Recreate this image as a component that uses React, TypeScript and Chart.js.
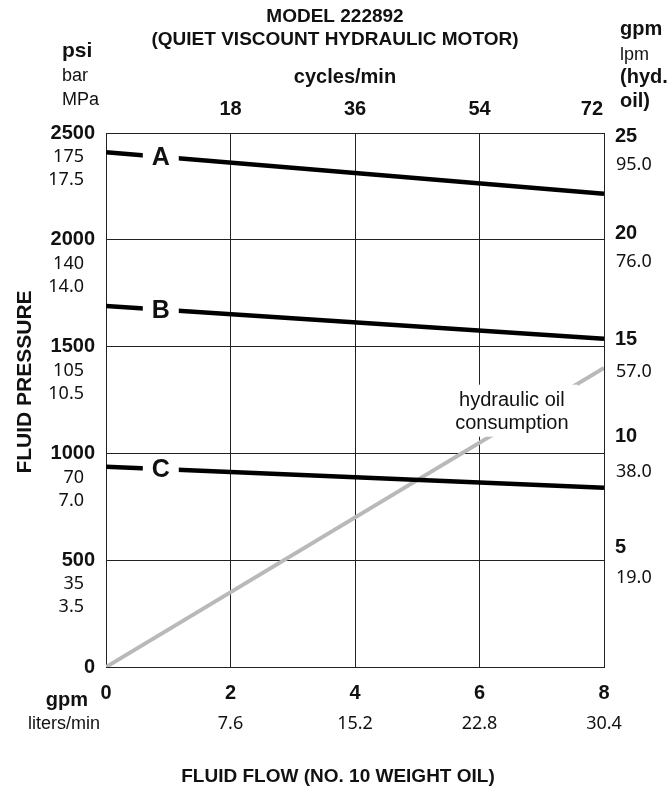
import React, { useEffect, useRef } from "react";
import { Chart, registerables } from "chart.js";
Chart.register(...registerables);

// ---- data ----
const flowGpm = [0, 8];
const curveA = [2410, 2215];
const curveB = [1690, 1537];
const curveC = [937, 839];
const hydOilGpm = [0, 14];
const curveNames = ["A", "B", "C"];
const curveLabelAtGpm = 0.88;
const xTicksGpm = [0, 2, 4, 6, 8];
const xTicksLpm = ["", "7.6", "15.2", "22.8", "30.4"];
const cycleTicks = ["", "18", "36", "54", "72"];
const psiTicks = [0, 500, 1000, 1500, 2000, 2500];
const barTicks = ["", "35", "70", "105", "140", "175"];
const mpaTicks = ["", "3.5", "7.0", "10.5", "14.0", "17.5"];
const rightGpmTicks = [5, 10, 15, 20, 25];
const rightLpmTicks = ["19.0", "38.0", "57.0", "76.0", "95.0"];
const oilNoteAt = { x: 6.52, y: 12.0 };

// ---- style ----
const BOLD = "bold 20px 'Liberation Sans', Arial, sans-serif";
const TITLE = "bold 19px 'Liberation Sans', Arial, sans-serif";
const NUM = "18px 'Noto Sans', sans-serif";
const TXT = "18px 'Liberation Sans', Arial, sans-serif";
const rightBoldNudge = [-13, -17, -7, -6, 3];
const rightRegNudge = [18, 18, 25, 22, 32];

function text(ctx: CanvasRenderingContext2D, s: string, x: number, y: number, font: string, align: CanvasTextAlign = "center", base: CanvasTextBaseline = "middle") {
  ctx.font = font;
  ctx.textAlign = align;
  ctx.textBaseline = base;
  ctx.fillStyle = "#111";
  ctx.fillText(s, x, y);
}

const decor = {
  id: "decor",
  afterDatasetsDraw(chart: any) {
    const ctx = chart.ctx as CanvasRenderingContext2D;
    const x = chart.scales.x, y = chart.scales.y, yR = chart.scales.yR;
    ctx.save();
    const curves = [curveA, curveB, curveC];
    curves.forEach((c, i) => {
      const t = curveLabelAtGpm / (flowGpm[1] - flowGpm[0]);
      const v = c[0] + (c[1] - c[0]) * t;
      const px = x.getPixelForValue(curveLabelAtGpm);
      const py = y.getPixelForValue(v);
      ctx.fillStyle = "#fff";
      ctx.fillRect(px - 18, py - 8, 36, 16);
      text(ctx, curveNames[i], px, py + 1, "bold 25px 'Liberation Sans', Arial, sans-serif");
    });
    const nx = x.getPixelForValue(oilNoteAt.x);
    const ny = yR.getPixelForValue(oilNoteAt.y);
    ctx.fillStyle = "#fff";
    ctx.fillRect(nx - 58, ny - 26, 124, 52);
    text(ctx, "hydraulic oil", nx, ny - 10, "20px 'Liberation Sans', Arial, sans-serif");
    text(ctx, "consumption", nx, ny + 13, "20px 'Liberation Sans', Arial, sans-serif");
    ctx.restore();
  },
  afterDraw(chart: any) {
    const ctx = chart.ctx as CanvasRenderingContext2D;
    const x = chart.scales.x, y = chart.scales.y, yR = chart.scales.yR;
    const area = chart.chartArea;
    ctx.save();
    text(ctx, "MODEL 222892", 335, 17, TITLE);
    text(ctx, "(QUIET VISCOUNT HYDRAULIC MOTOR)", 335, 40, TITLE);
    text(ctx, "psi", 62, 57, "bold 21px 'Liberation Sans', Arial, sans-serif", "left", "alphabetic");
    text(ctx, "bar", 62, 81, TXT, "left", "alphabetic");
    text(ctx, "MPa", 62, 105, TXT, "left", "alphabetic");
    text(ctx, "gpm", 620, 35, BOLD, "left", "alphabetic");
    text(ctx, "lpm", 620, 60, TXT, "left", "alphabetic");
    text(ctx, "(hyd.", 620, 83, BOLD, "left", "alphabetic");
    text(ctx, "oil)", 620, 107, BOLD, "left", "alphabetic");
    text(ctx, "cycles/min", 345, 77, BOLD);
    xTicksGpm.forEach((g, i) => {
      if (!cycleTicks[i]) return;
      const px = x.getPixelForValue(g);
      if (i === xTicksGpm.length - 1) text(ctx, cycleTicks[i], px - 1, 115, BOLD, "right", "alphabetic");
      else text(ctx, cycleTicks[i], px, 115, BOLD, "center", "alphabetic");
    });
    psiTicks.forEach((p, i) => {
      const py = y.getPixelForValue(p);
      text(ctx, String(p), 95, py, BOLD, "right");
      if (barTicks[i]) text(ctx, barTicks[i], 84, py + 24, NUM, "right");
      if (mpaTicks[i]) text(ctx, mpaTicks[i], 84, py + 47, NUM, "right");
    });
    rightGpmTicks.forEach((g, i) => {
      const py = yR.getPixelForValue(g);
      text(ctx, String(g), area.right + 11, py + rightBoldNudge[i], BOLD, "left");
      text(ctx, rightLpmTicks[i], area.right + 12, py + rightRegNudge[i], NUM, "left");
    });
    xTicksGpm.forEach((g, i) => {
      const px = x.getPixelForValue(g);
      text(ctx, String(g), px, area.bottom + 26, BOLD);
      if (xTicksLpm[i]) text(ctx, xTicksLpm[i], px, area.bottom + 57, NUM);
    });
    text(ctx, "gpm", 88, area.bottom + 33, BOLD, "right");
    text(ctx, "liters/min", 100, area.bottom + 57, TXT, "right");
    text(ctx, "FLUID FLOW (NO. 10 WEIGHT OIL)", 338, 777, TITLE);
    ctx.save();
    ctx.translate(25, 382);
    ctx.rotate(-Math.PI / 2);
    text(ctx, "FLUID PRESSURE", 0, 0, "bold 21px 'Liberation Sans', Arial, sans-serif");
    ctx.restore();
    ctx.restore();
  },
};

export default function App() {
  const ref = useRef<HTMLCanvasElement | null>(null);
  useEffect(() => {
    document.body.style.margin = "0";
    const pts = (arr: number[]) => arr.map((v, i) => ({ x: flowGpm[i], y: v }));
    const black = { borderColor: "#000", borderWidth: 4.5, pointRadius: 0, fill: false, tension: 0 };
    const chart = new Chart(ref.current!, {
      type: "line",
      data: {
        datasets: [
          { label: "A", data: pts(curveA), ...black },
          { label: "B", data: pts(curveB), ...black },
          { label: "C", data: pts(curveC), ...black },
          { label: "hydraulic oil consumption", data: pts(hydOilGpm), yAxisID: "yR", borderColor: "#b9b9b9", borderWidth: 4, pointRadius: 0, fill: false },
        ],
      },
      options: {
        responsive: false,
        animation: false,
        layout: { padding: { left: 106, right: 66, top: 133, bottom: 126 } },
        plugins: { legend: { display: false }, tooltip: { enabled: false }, title: { display: false } },
        scales: {
          x: {
            type: "linear", min: 0, max: 8,
            ticks: { display: false, stepSize: 2 },
            grid: { color: "#222", lineWidth: 1, drawTicks: false },
            border: { display: true, color: "#222", width: 1 },
          },
          y: {
            min: 0, max: 2500,
            ticks: { display: false, stepSize: 500 },
            grid: { color: "#222", lineWidth: 1, drawTicks: false },
            border: { display: true, color: "#222", width: 1 },
          },
          yR: { position: "right", min: 0, max: 25, display: false },
        },
      } as any,
      plugins: [decor],
    });
    return () => chart.destroy();
  }, []);
  return <canvas ref={ref} width={670} height={793} style={{ display: "block", width: 670, height: 793 }} />;
}
